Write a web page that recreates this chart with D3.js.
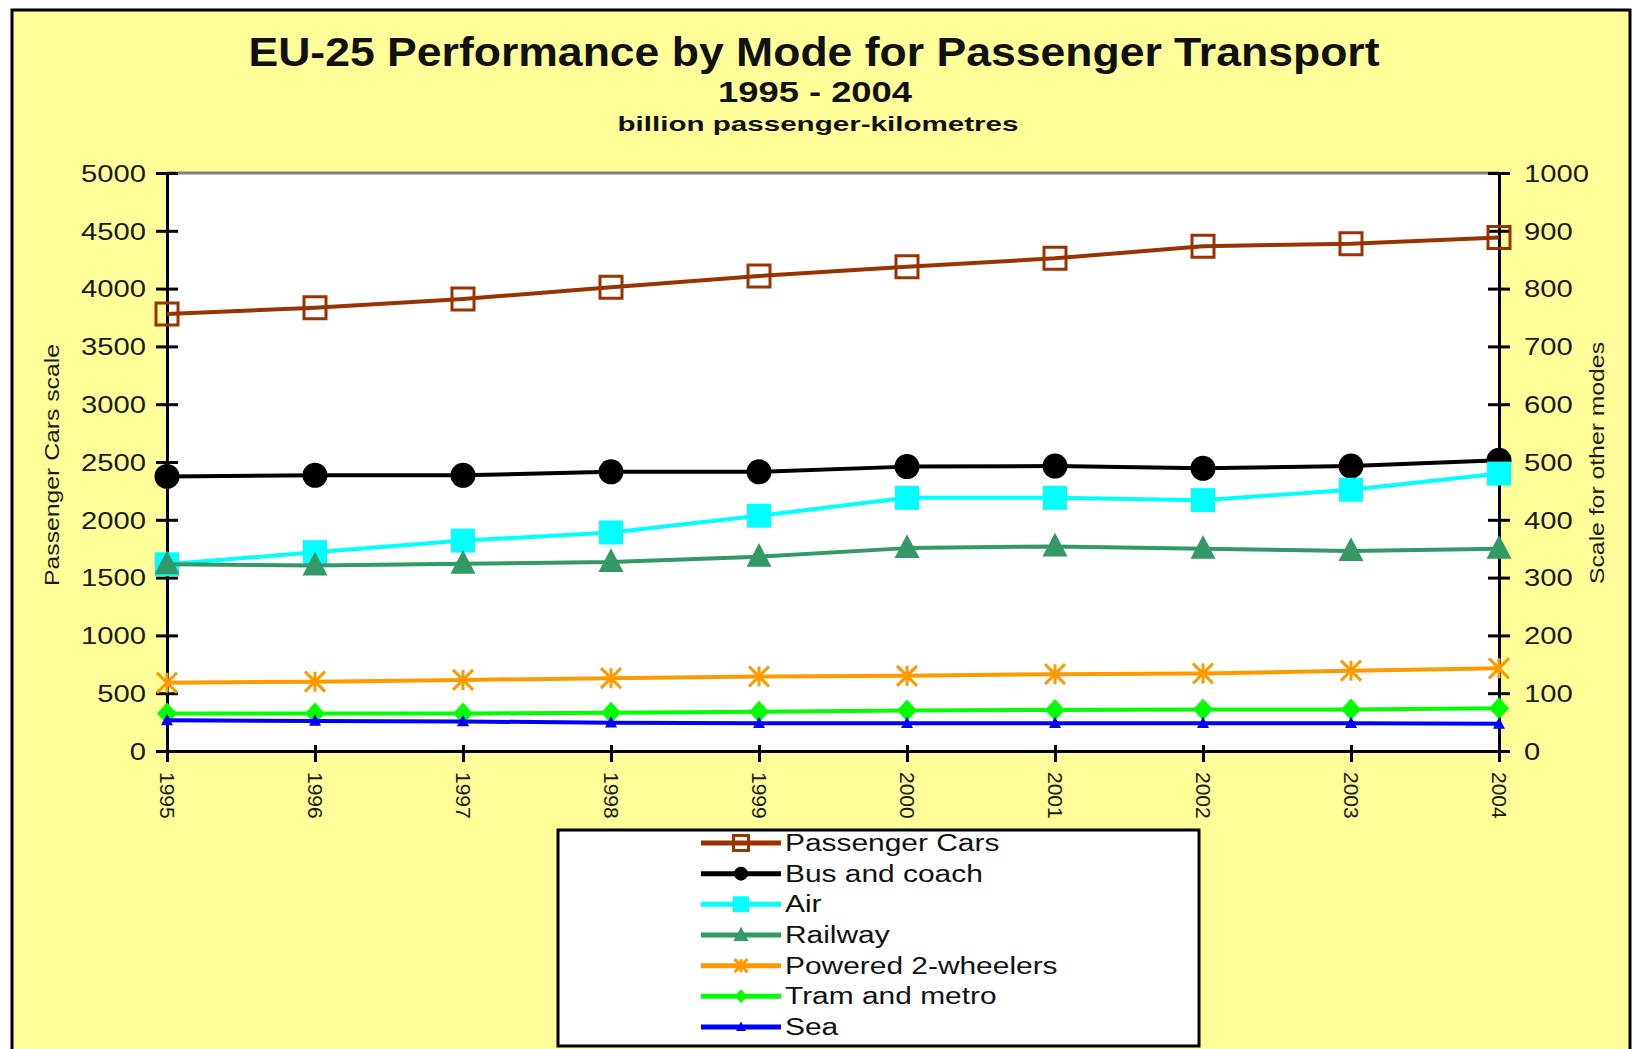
<!DOCTYPE html>
<html>
<head>
<meta charset="utf-8">
<script src="https://cdn.jsdelivr.net/npm/d3@7"></script>
<style>
  html, body { margin: 0; padding: 0; background: #ffffff; }
  svg { display: block; }
  text { font-family: "Liberation Sans", Arial, sans-serif; }
</style>
</head>
<body>
<svg id="chart" width="1636" height="1049"></svg>
<script>
// ---------- data ----------
const years = ["1995","1996","1997","1998","1999","2000","2001","2002","2003","2004"];
const passengerCars      = [3780, 3835, 3910, 4011, 4109, 4190, 4262, 4366, 4389, 4441]; // left axis
const busAndCoach        = [475, 477, 477, 483, 483, 492, 493, 489, 493, 503];           // right axis
const air                = [323, 344, 364, 378, 407, 438, 438, 434, 452, 480];
const railway            = [323, 321, 324, 327, 336, 351, 354, 350, 346, 350];
const poweredTwoWheelers = [118, 120, 123, 126, 129, 130, 133, 134, 139, 143];
const tramAndMetro       = [65, 65, 65, 66, 68, 70, 71, 72, 72, 74];
const sea                = [53, 52, 51, 49, 48, 48, 48, 48, 48, 47];
const leftTicks  = [0, 500, 1000, 1500, 2000, 2500, 3000, 3500, 4000, 4500, 5000];
const rightTicks = [0, 100, 200, 300, 400, 500, 600, 700, 800, 900, 1000];
const seriesNames = ["Passenger Cars", "Bus and coach", "Air", "Railway", "Powered 2-wheelers", "Tram and metro", "Sea"];
const titleText = "EU-25 Performance by Mode for Passenger Transport";
const subtitleText = "1995 - 2004";
const unitText = "billion passenger-kilometres";
const leftAxisTitle = "Passenger Cars scale";
const rightAxisTitle = "Scale for other modes";

// ---------- layout ----------
const svg = d3.select("#chart");
const plot = { left: 167, right: 1499, top: 173, bottom: 751 };

const x = d3.scalePoint().domain(years).range([plot.left, plot.right]).padding(0);
const yL = d3.scaleLinear().domain([0, 5000]).range([plot.bottom, plot.top]);
const yR = d3.scaleLinear().domain([0, 1000]).range([plot.bottom, plot.top]);

function fitText(sel, target) {
  sel.attr("textLength", target).attr("lengthAdjust", "spacingAndGlyphs");
}
function stretch(sel, k) {
  sel.each(function () {
    const w = this.getComputedTextLength();
    d3.select(this).attr("textLength", w * k).attr("lengthAdjust", "spacingAndGlyphs");
  });
}

// background frame
svg.append("rect").attr("x", 12).attr("y", 10).attr("width", 1618).attr("height", 1100)
  .attr("fill", "#FFFF99").attr("stroke", "#000").attr("stroke-width", 3);

// titles
fitText(svg.append("text").attr("x", 814).attr("y", 66).attr("text-anchor", "middle")
  .attr("font-size", 40).attr("font-weight", "bold").attr("fill", "#111").text(titleText), 1131);
fitText(svg.append("text").attr("x", 815).attr("y", 102).attr("text-anchor", "middle")
  .attr("font-size", 29).attr("font-weight", "bold").attr("fill", "#111").text(subtitleText), 194);
fitText(svg.append("text").attr("x", 818).attr("y", 131).attr("text-anchor", "middle")
  .attr("font-size", 21).attr("font-weight", "bold").attr("fill", "#111").text(unitText), 401);

// plot area
svg.append("rect").attr("x", plot.left).attr("y", plot.top)
  .attr("width", plot.right - plot.left).attr("height", plot.bottom - plot.top)
  .attr("fill", "#ffffff");
svg.append("line").attr("x1", plot.left).attr("x2", plot.right)
  .attr("y1", plot.top).attr("y2", plot.top).attr("stroke", "#808080").attr("stroke-width", 3);

// axes
const fmt = d3.format("d");
const gL = svg.append("g").attr("transform", `translate(${plot.left},0)`)
  .call(d3.axisLeft(yL).tickValues(leftTicks).tickFormat(fmt).tickSize(11).tickSizeOuter(0));
const gR = svg.append("g").attr("transform", `translate(${plot.right},0)`)
  .call(d3.axisRight(yR).tickValues(rightTicks).tickFormat(fmt).tickSize(11).tickSizeOuter(0));
const gB = svg.append("g").attr("transform", `translate(0,${plot.bottom})`)
  .call(d3.axisBottom(x).tickSize(11).tickSizeOuter(0));

[gL, gR, gB].forEach(g => {
  g.select(".domain").attr("stroke", "#000").attr("stroke-width", 3);
  g.selectAll(".tick line").attr("stroke", "#000").attr("stroke-width", 3);
  g.selectAll("text").attr("font-family", "Liberation Sans, Arial, sans-serif").attr("fill", "#1a1a1a");
});
gL.selectAll(".tick line").attr("x1", 11).attr("x2", -11);
gR.selectAll(".tick line").attr("x1", -11).attr("x2", 11);
gB.selectAll(".tick line").attr("y1", -6).attr("y2", 11);
gL.selectAll(".tick text").attr("font-size", 23).attr("x", -21).attr("dy", "0.36em");
gR.selectAll(".tick text").attr("font-size", 23).attr("x", 25).attr("dy", "0.36em");
stretch(gL.selectAll(".tick text"), 1.27);
stretch(gR.selectAll(".tick text"), 1.27);
gB.selectAll(".tick text").attr("font-size", 21)
  .attr("transform", "rotate(90)").attr("x", 21).attr("y", 0).attr("dy", "0.35em")
  .attr("text-anchor", "start");

// axis titles
fitText(svg.append("text").attr("transform", "translate(59,465) rotate(-90)")
  .attr("text-anchor", "middle").attr("font-size", 20).attr("fill", "#1a1a1a").text(leftAxisTitle), 242);
fitText(svg.append("text").attr("transform", "translate(1604,463) rotate(-90)")
  .attr("text-anchor", "middle").attr("font-size", 20).attr("fill", "#1a1a1a").text(rightAxisTitle), 242);

// ---------- series ----------
const markers = {
  openSquare: s => `M${-s/2},${-s/2}H${s/2}V${s/2}H${-s/2}Z`,
  circle: s => d3.symbol(d3.symbolCircle, Math.PI * (s/2) * (s/2))(),
  square: s => `M${-s/2},${-s/2}H${s/2}V${s/2}H${-s/2}Z`,
  triangle: s => `M0,${-s*0.55}L${s/2},${s*0.4}L${-s/2},${s*0.4}Z`,
  asterisk: s => `M${-s/2},${-s/2}L${s/2},${s/2}M${s/2},${-s/2}L${-s/2},${s/2}M0,${-s/2}V${s/2}`,
  diamond: s => `M0,${-s/2}L${s/2*0.9},0L0,${s/2}L${-s/2*0.9},0Z`
};

const series = [
  { name: seriesNames[0], values: passengerCars,      scale: yL, color: "#993300", marker: "openSquare", size: 22, legendSize: 15, fill: "none",    stroke: "#993300", sw: 3 },
  { name: seriesNames[1], values: busAndCoach,        scale: yR, color: "#000000", marker: "circle",     size: 25, legendSize: 14, fill: "#000000", stroke: "none",    sw: 0 },
  { name: seriesNames[2], values: air,                scale: yR, color: "#00FFFF", marker: "square",     size: 24, legendSize: 16, fill: "#00FFFF", stroke: "none",    sw: 0 },
  { name: seriesNames[3], values: railway,            scale: yR, color: "#339966", marker: "triangle",   size: 25, legendSize: 15, fill: "#339966", stroke: "none",    sw: 0 },
  { name: seriesNames[4], values: poweredTwoWheelers, scale: yR, color: "#FF9900", marker: "asterisk",   size: 20, legendSize: 13, fill: "none",    stroke: "#FF9900", sw: 3 },
  { name: seriesNames[5], values: tramAndMetro,       scale: yR, color: "#00FF00", marker: "diamond",    size: 22, legendSize: 14, fill: "#00FF00", stroke: "none",    sw: 0 },
  { name: seriesNames[6], values: sea,                scale: yR, color: "#0000FF", marker: "triangle",   size: 12, legendSize: 10, fill: "#0000FF", stroke: "none",    sw: 0 }
];

const line = (scale) => d3.line().x((d, i) => x(years[i])).y(d => scale(d));

series.forEach(s => {
  const g = svg.append("g");
  g.append("path").datum(s.values).attr("d", line(s.scale))
    .attr("fill", "none").attr("stroke", s.color).attr("stroke-width", 4).attr("stroke-linejoin", "round");
  g.selectAll("path.mk").data(s.values).join("path").attr("class", "mk")
    .attr("transform", (d, i) => `translate(${x(years[i])},${s.scale(d)})`)
    .attr("d", markers[s.marker](s.size))
    .attr("fill", s.fill).attr("stroke", s.stroke).attr("stroke-width", s.sw);
});

// ---------- legend ----------
const legend = svg.append("g");
legend.append("rect").attr("x", 558).attr("y", 830).attr("width", 641).attr("height", 216)
  .attr("fill", "#ffffff").attr("stroke", "#000").attr("stroke-width", 3);
const legendY = d3.scalePoint().domain(seriesNames).range([843, 1027]);
series.forEach(s => {
  const cy = legendY(s.name);
  legend.append("line").attr("x1", 701).attr("x2", 781).attr("y1", cy).attr("y2", cy)
    .attr("stroke", s.color).attr("stroke-width", 5);
  legend.append("path").attr("transform", `translate(741,${cy})`)
    .attr("d", markers[s.marker](s.legendSize))
    .attr("fill", s.fill).attr("stroke", s.stroke).attr("stroke-width", s.sw);
  const t = legend.append("text").attr("x", 785).attr("y", cy + 8)
    .attr("font-size", 23).attr("fill", "#111").text(s.name);
  stretch(t, 1.3);
});
</script>
</body>
</html>
